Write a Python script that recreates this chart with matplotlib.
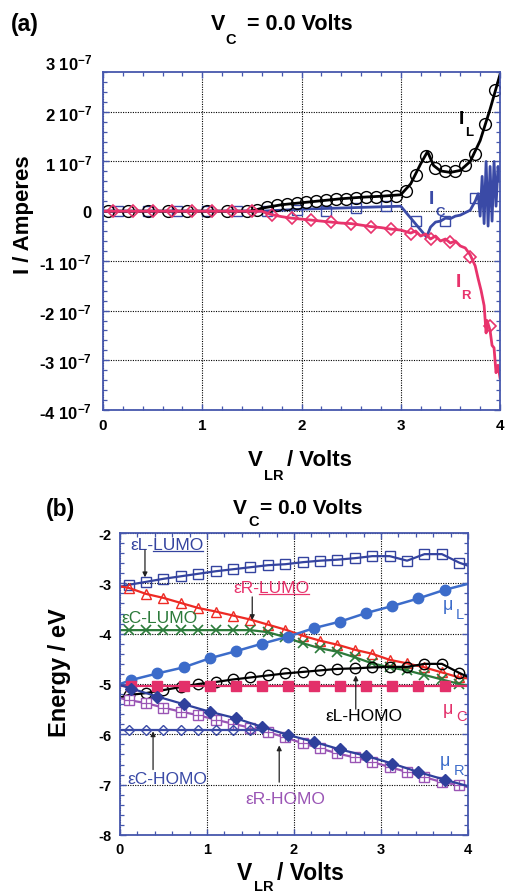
import numpy as np
import matplotlib
matplotlib.use('Agg')
import matplotlib.pyplot as plt
from matplotlib.ticker import MultipleLocator, FixedLocator, FixedFormatter
from matplotlib.lines import Line2D

plt.rcParams['font.family'] = ['Liberation Sans', 'DejaVu Sans']
plt.rcParams['mathtext.fontset'] = 'custom'
plt.rcParams['mathtext.rm'] = 'Liberation Sans'
plt.rcParams['mathtext.bf'] = 'Liberation Sans:bold'
plt.rcParams['mathtext.default'] = 'bf'
plt.rcParams['axes.unicode_minus'] = False

# ---------------- panel (a) data, currents in units of 1e-7 A ----------------
il_line_x = [0.0, 1.5, 1.6, 1.8, 2.0, 2.2, 2.4, 2.6, 2.8, 3.0, 3.1, 3.2, 3.27, 3.33,
             3.4, 3.5, 3.6, 3.7, 3.8, 3.9, 4.0]
il_line_y = [0, 0, 0.06, 0.13, 0.17, 0.21, 0.25, 0.28, 0.30, 0.33, 0.55, 0.95, 1.2, 0.92,
             0.81, 0.78, 0.82, 1.0, 1.42, 2.05, 2.75]
il_mark_x = [0.05, 0.25, 0.45, 0.65, 0.85, 1.05, 1.25, 1.45, 1.55, 1.65, 1.75, 1.85, 1.95,
             2.05, 2.15, 2.25, 2.35, 2.45, 2.55, 2.65, 2.75, 2.85, 2.95, 3.05, 3.15, 3.25,
             3.35, 3.45, 3.55, 3.65, 3.75, 3.85, 3.95]
il_mark_y = [0, 0, 0, 0, 0, 0, 0, 0, 0.03, 0.09, 0.12, 0.14, 0.16,
             0.18, 0.20, 0.22, 0.24, 0.25, 0.27, 0.28, 0.29, 0.30, 0.31, 0.40, 0.73, 1.12,
             0.86, 0.80, 0.80, 0.92, 1.16, 1.76, 2.43]

ic_line_x = [0.0, 1.6, 2.0, 2.5, 3.0, 3.26, 3.3, 3.35, 3.4, 3.45, 3.5, 3.55, 3.6, 3.65,
             3.7, 3.75, 3.78, 3.8, 3.82, 3.84, 3.86, 3.88, 3.9, 3.92, 3.94, 3.96, 3.98, 4.0]
ic_line_y = [0, 0, 0.04, 0.07, 0.10, -0.52, -0.32, -0.22, -0.20, -0.14, -0.15, -0.10,
             -0.08, -0.03, 0.02, 0.20, 0.35, -0.10, 0.70, -0.25, 1.0, -0.30, 0.90, -0.20,
             1.0, 0.10, 0.90, 0.60]
ic_mark_x = [0.15, 0.45, 0.75, 1.05, 1.35, 1.65, 1.95, 2.25, 2.55, 2.85, 3.15, 3.45, 3.75]
ic_mark_y = [0, 0, 0, 0, 0, 0.01, 0.03, 0.0, 0.06, 0.10, -0.20, -0.20, 0.26]

ir_line_x = [0.0, 1.6, 1.7, 1.8, 1.9, 2.0, 2.1, 2.2, 2.3, 2.4, 2.5, 2.6, 2.7, 2.8, 2.9,
             3.0, 3.1, 3.15, 3.2, 3.25, 3.3, 3.35, 3.4, 3.45, 3.5, 3.55, 3.6, 3.65, 3.7,
             3.75, 3.78, 3.81, 3.84, 3.86, 3.87, 3.9, 3.92, 3.94, 3.96, 3.98, 4.0]
ir_line_y = [0, 0, -0.07, -0.11, -0.14, -0.16, -0.18, -0.20, -0.22, -0.24, -0.25, -0.28,
             -0.31, -0.33, -0.36, -0.38, -0.44, -0.40, -0.50, -0.46, -0.56, -0.50, -0.60,
             -0.56, -0.64, -0.60, -0.70, -0.74, -0.88, -1.10, -1.36, -1.60, -1.90, -2.45,
             -2.20, -2.40, -2.70, -2.75, -3.25, -3.10, -3.35]
ir_mark_x = [0.1, 0.3, 0.5, 0.7, 0.9, 1.1, 1.3, 1.5, 1.7, 1.9, 2.1, 2.3, 2.5, 2.7, 2.9,
             3.1, 3.3, 3.5, 3.7, 3.9]
ir_mark_y = [0, 0, 0, 0, 0, 0, 0, 0, -0.08, -0.14, -0.18, -0.21, -0.25, -0.31, -0.36,
             -0.45, -0.55, -0.63, -0.92, -2.30]

yticks_a = [-4, -3, -2, -1, 0, 1, 2]
ytick_labels_a = ['-4 10$^{-7}$', '-3 10$^{-7}$', '-2 10$^{-7}$', '-1 10$^{-7}$', '0',
                  '1 10$^{-7}$', '2 10$^{-7}$']
xticks = [0, 1, 2, 3, 4]

# ---------------- panel (b) data, energies in eV ----------------
x_odd = [0.1, 0.3, 0.5, 0.7, 0.9, 1.1, 1.3, 1.5, 1.7, 1.9, 2.1, 2.3, 2.5, 2.7, 2.9,
         3.1, 3.3, 3.5, 3.7, 3.9]
x_mu = [0.13, 0.43, 0.73, 1.03, 1.33, 1.63, 1.93, 2.23, 2.53, 2.83, 3.13, 3.43, 3.73]

eL_lumo = [-3.03, -2.97, -2.91, -2.86, -2.81, -2.76, -2.72, -2.68, -2.64, -2.62, -2.58,
           -2.55, -2.53, -2.50, -2.46, -2.46, -2.55, -2.42, -2.42, -2.59]
eL_lumo_ends = [-3.07, -2.65]
eR_lumo = [-3.09, -3.21, -3.29, -3.39, -3.49, -3.56, -3.64, -3.72, -3.82, -3.92, -4.04,
           -4.14, -4.22, -4.32, -4.40, -4.52, -4.59, -4.67, -4.77, -4.87]
eR_lumo_ends = [-3.06, -4.89]
eC_lumo = [-3.93, -3.93, -3.93, -3.93, -3.93, -3.93, -3.93, -3.93, -3.97, -4.07, -4.19,
           -4.29, -4.36, -4.47, -4.59, -4.67, -4.73, -4.82, -4.91, -5.00]
eC_lumo_ends = [-3.93, -5.04]
eL_homo = [-5.22, -5.18, -5.12, -5.06, -5.00, -4.96, -4.91, -4.87, -4.83, -4.79, -4.76,
           -4.73, -4.70, -4.69, -4.67, -4.66, -4.66, -4.60, -4.60, -4.78]
eL_homo_ends = [-5.27, -4.86]
eR_homo = [-5.32, -5.38, -5.47, -5.55, -5.62, -5.71, -5.79, -5.87, -5.96, -6.06, -6.18,
           -6.28, -6.38, -6.46, -6.55, -6.65, -6.75, -6.85, -6.95, -7.01]
eR_homo_ends = [-5.28, -7.05]
eC_homo_x = [0.1, 0.3, 0.5, 0.7, 0.9, 1.1, 1.3, 1.5]
eC_homo = [-5.92, -5.92, -5.92, -5.92, -5.92, -5.92, -5.92, -5.92]
eC_homo_ends = [-5.92, -5.92]
eC_homo_end_x = 1.6
mu_L = [-4.92, -4.79, -4.67, -4.49, -4.35, -4.20, -4.06, -3.89, -3.76, -3.59, -3.45,
        -3.30, -3.13]
mu_L_ends = [-5.00, -3.01]
mu_C = [-5.03] * 13
mu_C_ends = [-5.03, -5.03]
mu_R = [-5.09, -5.25, -5.40, -5.55, -5.68, -5.85, -6.01, -6.15, -6.30, -6.43, -6.58,
        -6.75, -6.90]
mu_R_ends = [-5.02, -7.03]

# colours
SPINE = '#4657ad'
C_IC = '#3a4aa6'
C_IR = '#e8336c'
C_ELL = '#34439f'
C_ERL = '#ee2a24'
C_ECL = '#2b7a3a'
C_MUL = '#3c6cca'
C_MUC = '#e3306a'
C_MUR = '#2f409c'
C_ERH = '#9a55b5'
C_ECH = '#3a4aa6'

W, H = 506, 895
fig = plt.figure(figsize=(W / 100, H / 100), dpi=100)


def fpos(px, py):
    # pixel position -> figure fraction
    return px / W, 1 - py / H


def style_axes(ax, xminor, yminor, xsize, ysize):
    for s in ax.spines.values():
        s.set_color(SPINE)
        s.set_linewidth(1.3)
    ax.xaxis.set_minor_locator(MultipleLocator(xminor))
    ax.yaxis.set_minor_locator(MultipleLocator(yminor))
    ax.tick_params(which='both', direction='in', top=True, right=True, color=SPINE)
    ax.tick_params(which='major', length=4, width=1.0)
    ax.tick_params(which='minor', length=3, width=0.9)
    ax.tick_params(axis='x', labelsize=xsize)
    ax.tick_params(axis='y', labelsize=ysize)
    ax.grid(True, which='major', linestyle=(0, (1, 1.2)), color='k', linewidth=0.8)
    ax.set_axisbelow(True)
    for lab in ax.get_xticklabels() + ax.get_yticklabels():
        lab.set_fontweight('bold')


# ======================= panel (a) =======================
ax1 = fig.add_axes([103 / W, 1 - 411 / H, 397 / W, 338 / H])
sc = 1e-7
ax1.plot(ic_line_x, np.array(ic_line_y) * sc, color=C_IC, lw=2.0)
ax1.plot(ic_mark_x, np.array(ic_mark_y) * sc, ls='none', marker='s', ms=7.5,
         mfc='none', mec=C_IC, mew=1.0)
ax1.plot(il_line_x, np.array(il_line_y) * sc, color='k', lw=2.0)
ax1.plot(il_mark_x, np.array(il_mark_y) * sc, ls='none', marker='o', ms=8.5,
         mfc='none', mec='k', mew=1.0)
ax1.plot(ir_line_x, np.array(ir_line_y) * sc, color=C_IR, lw=2.0)
ax1.plot(ir_mark_x, np.array(ir_mark_y) * sc, ls='none', marker='D', ms=6.0,
         mfc='none', mec=C_IR, mew=1.2)

ax1.set_xlim(0, 4)
ax1.set_ylim(-4e-7, 2.8e-7)
ax1.xaxis.set_major_locator(FixedLocator(xticks))
ax1.yaxis.set_major_locator(FixedLocator(np.array(yticks_a) * sc))
ax1.yaxis.set_major_formatter(FixedFormatter(ytick_labels_a))
style_axes(ax1, 0.2, 0.2e-7, 11, 12)
ax1.tick_params(axis='y', pad=8)
ax1.tick_params(axis='x', pad=6)
# the 3 10^-7 label sits just above the frame
ax1.text(-0.028, 3e-7, '3 10$^{-7}$', transform=ax1.get_yaxis_transform(),
         ha='right', va='center', fontsize=12, fontweight='bold', clip_on=False)

# curve labels
ax1.text(3.61, 1.86e-7, 'I', color='k', fontsize=14, fontweight='bold', ha='center', va='center')
ax1.text(3.69, 1.60e-7, 'L', color='k', fontsize=9.5, fontweight='bold', ha='center', va='center')
ax1.text(3.31, 0.25e-7, 'I', color=C_IC, fontsize=14, fontweight='bold', ha='center', va='center')
ax1.text(3.40, -0.01e-7, 'C', color=C_IC, fontsize=9.5, fontweight='bold', ha='center', va='center')
ax1.text(3.58, -1.42e-7, 'I', color=C_IR, fontsize=14, fontweight='bold', ha='center', va='center')
ax1.text(3.66, -1.69e-7, 'R', color=C_IR, fontsize=9.5, fontweight='bold', ha='center', va='center')

# titles / axis labels of panel (a)
fig.text(*fpos(11, 25), '(a)', fontsize=16.5, fontweight='bold', ha='left', va='center')
fig.text(*fpos(211, 25), 'V', fontsize=15.5, fontweight='bold', ha='left', va='center')
fig.text(*fpos(225, 40), 'C', fontsize=10.5, fontweight='bold', ha='left', va='center')
fig.text(*fpos(247, 25), '= 0.0 Volts', fontsize=15.5, fontweight='bold', ha='left', va='center')
fig.text(*fpos(24, 215), 'I / Amperes', fontsize=16, fontweight='bold', rotation=90,
         ha='center', va='center')
fig.text(*fpos(248, 461), 'V', fontsize=16, fontweight='bold', ha='left', va='center')
fig.text(*fpos(264, 476), 'LR', fontsize=10.5, fontweight='bold', ha='left', va='center')
fig.text(*fpos(287, 461), '/ Volts', fontsize=16, fontweight='bold', ha='left', va='center')

# ======================= panel (b) =======================
ax2 = fig.add_axes([120 / W, 1 - 836 / H, 348 / W, 302 / H])


def ends(xs):
    return [0.0] + list(xs) + [4.0]


# eL-LUMO
ax2.plot(ends(x_odd), [eL_lumo_ends[0]] + eL_lumo + [eL_lumo_ends[1]], color=C_ELL, lw=1.6)
ax2.plot(x_odd, eL_lumo, ls='none', marker='s', ms=7, mfc='none', mec=C_ELL, mew=1.0)
# eR-LUMO
ax2.plot(ends(x_odd), [eR_lumo_ends[0]] + eR_lumo + [eR_lumo_ends[1]], color=C_ERL, lw=1.6)
ax2.plot(x_odd, eR_lumo, ls='none', marker='^', ms=6.5, mfc='none', mec=C_ERL, mew=1.0)
# eC-LUMO
ax2.plot(ends(x_odd), [eC_lumo_ends[0]] + eC_lumo + [eC_lumo_ends[1]], color=C_ECL, lw=1.6)
ax2.plot(x_odd, eC_lumo, ls='none', marker='x', ms=6.5, mec=C_ECL, mew=1.2)
# mu_L
ax2.plot(ends(x_mu), [mu_L_ends[0]] + mu_L + [mu_L_ends[1]], color=C_MUL, lw=1.8)
ax2.plot(x_mu, mu_L, ls='none', marker='o', ms=7.5, mfc=C_MUL, mec=C_MUL)
# eL-HOMO
ax2.plot(ends(x_odd), [eL_homo_ends[0]] + eL_homo + [eL_homo_ends[1]], color='k', lw=1.6)
ax2.plot(x_odd, eL_homo, ls='none', marker='o', ms=7.5, mfc='none', mec='k', mew=1.0)
# mu_C
ax2.plot(ends(x_mu), [mu_C_ends[0]] + mu_C + [mu_C_ends[1]], color=C_MUC, lw=1.6)
ax2.plot(x_mu, mu_C, ls='none', marker='s', ms=6.5, mfc=C_MUC, mec=C_MUC)
# eR-HOMO (squares with a cross inside)
ax2.plot(ends(x_odd), [eR_homo_ends[0]] + eR_homo + [eR_homo_ends[1]], color=C_ERH, lw=1.6)
ax2.plot(x_odd, eR_homo, ls='none', marker='s', ms=7, mfc='white', mec=C_ERH, mew=1.0)
ax2.plot(x_odd, eR_homo, ls='none', marker='+', ms=7, mec=C_ERH, mew=0.9)
# mu_R
ax2.plot(ends(x_mu), [mu_R_ends[0]] + mu_R + [mu_R_ends[1]], color=C_MUR, lw=1.6)
ax2.plot(x_mu, mu_R, ls='none', marker='D', ms=6, mfc=C_MUR, mec=C_MUR)
# eC-HOMO
ax2.plot([0.0] + eC_homo_x + [eC_homo_end_x], [eC_homo_ends[0]] + eC_homo + [eC_homo_ends[1]],
         color=C_ECH, lw=1.6)
ax2.plot(eC_homo_x, eC_homo, ls='none', marker='D', ms=5.5, mfc='none', mec=C_ECH, mew=1.0)

ax2.set_xlim(0, 4)
ax2.set_ylim(-8, -2)
ax2.xaxis.set_major_locator(FixedLocator(xticks))
ax2.yaxis.set_major_locator(MultipleLocator(1))
style_axes(ax2, 0.2, 0.2, 10.5, 10.5)
ax2.tick_params(axis='y', pad=6)
ax2.tick_params(axis='x', pad=5)

lab_fs = 12.5
arrow = dict(arrowstyle='-|>', color='#222222', lw=0.9, mutation_scale=7,
             shrinkA=0, shrinkB=0)
t_ell = ax2.text(0.115, -2.23, 'εL-LUMO', color=C_ELL, fontsize=lab_fs, va='center')
ax2.annotate('', xy=(0.287, -2.88), xytext=(0.287, -2.34), arrowprops=arrow)
t_erl = ax2.text(1.30, -3.09, 'εR-LUMO', color=C_IR, fontsize=lab_fs, va='center')
ax2.annotate('', xy=(1.52, -3.73), xytext=(1.52, -3.27), arrowprops=arrow)
ax2.text(0.02, -3.68, 'εC-LUMO', color=C_ECL, fontsize=lab_fs, va='center')
ax2.text(2.36, -5.62, 'εL-HOMO', color='k', fontsize=lab_fs, va='center')
ax2.annotate('', xy=(2.71, -4.83), xytext=(2.71, -5.50), arrowprops=arrow)
ax2.text(0.09, -6.87, 'εC-HOMO', color=C_ECH, fontsize=lab_fs, va='center')
ax2.annotate('', xy=(0.38, -5.94), xytext=(0.38, -6.70), arrowprops=arrow)
ax2.text(1.44, -7.27, 'εR-HOMO', color=C_ERH, fontsize=lab_fs, va='center')
ax2.annotate('', xy=(1.83, -6.22), xytext=(1.83, -6.95), arrowprops=arrow)

ax2.text(3.71, -3.43, 'μ', color=C_MUL, fontsize=13, va='center')
ax2.text(3.86, -3.60, 'L', color=C_MUL, fontsize=10.5, va='center')
ax2.text(3.71, -5.48, 'μ', color=C_MUC, fontsize=13, va='center')
ax2.text(3.86, -5.64, 'C', color=C_MUC, fontsize=10.5, va='center')
ax2.text(3.68, -6.51, 'μ', color=C_MUL, fontsize=13, va='center')
ax2.text(3.84, -6.71, 'R', color=C_MUL, fontsize=10.5, va='center')

# titles / axis labels of panel (b)
fig.text(*fpos(46, 510), '(b)', fontsize=16.5, fontweight='bold', ha='left', va='center')
fig.text(*fpos(233, 509), 'V', fontsize=15, fontweight='bold', ha='left', va='center')
fig.text(*fpos(248, 522), 'C', fontsize=10.5, fontweight='bold', ha='left', va='center')
fig.text(*fpos(260, 509), '= 0.0 Volts', fontsize=15, fontweight='bold', ha='left', va='center')
fig.text(*fpos(60, 673), 'Energy / eV', fontsize=17, fontweight='bold', rotation=90,
         ha='center', va='center')
fig.text(*fpos(237, 874), 'V', fontsize=16.5, fontweight='bold', ha='left', va='center')
fig.text(*fpos(254, 887), 'LR', fontsize=10.5, fontweight='bold', ha='left', va='center')
fig.text(*fpos(277, 874), '/ Volts', fontsize=16.5, fontweight='bold', ha='left', va='center')

# underline "LUMO" in the two LUMO labels
fig.canvas.draw()
renderer = fig.canvas.get_renderer()
for t, prefix in [(t_ell, 'εL-'), (t_erl, 'εR-')]:
    bb = t.get_window_extent(renderer)
    tmp = ax2.text(0, 0, prefix, fontsize=lab_fs)
    pw = tmp.get_window_extent(renderer).width
    tmp.remove()
    yline = bb.y0 + 1
    fig.add_artist(Line2D([(bb.x0 + pw) / W, bb.x1 / W], [yline / H, yline / H],
                          color=t.get_color(), lw=0.9))

fig.savefig('out.png', dpi=100)
